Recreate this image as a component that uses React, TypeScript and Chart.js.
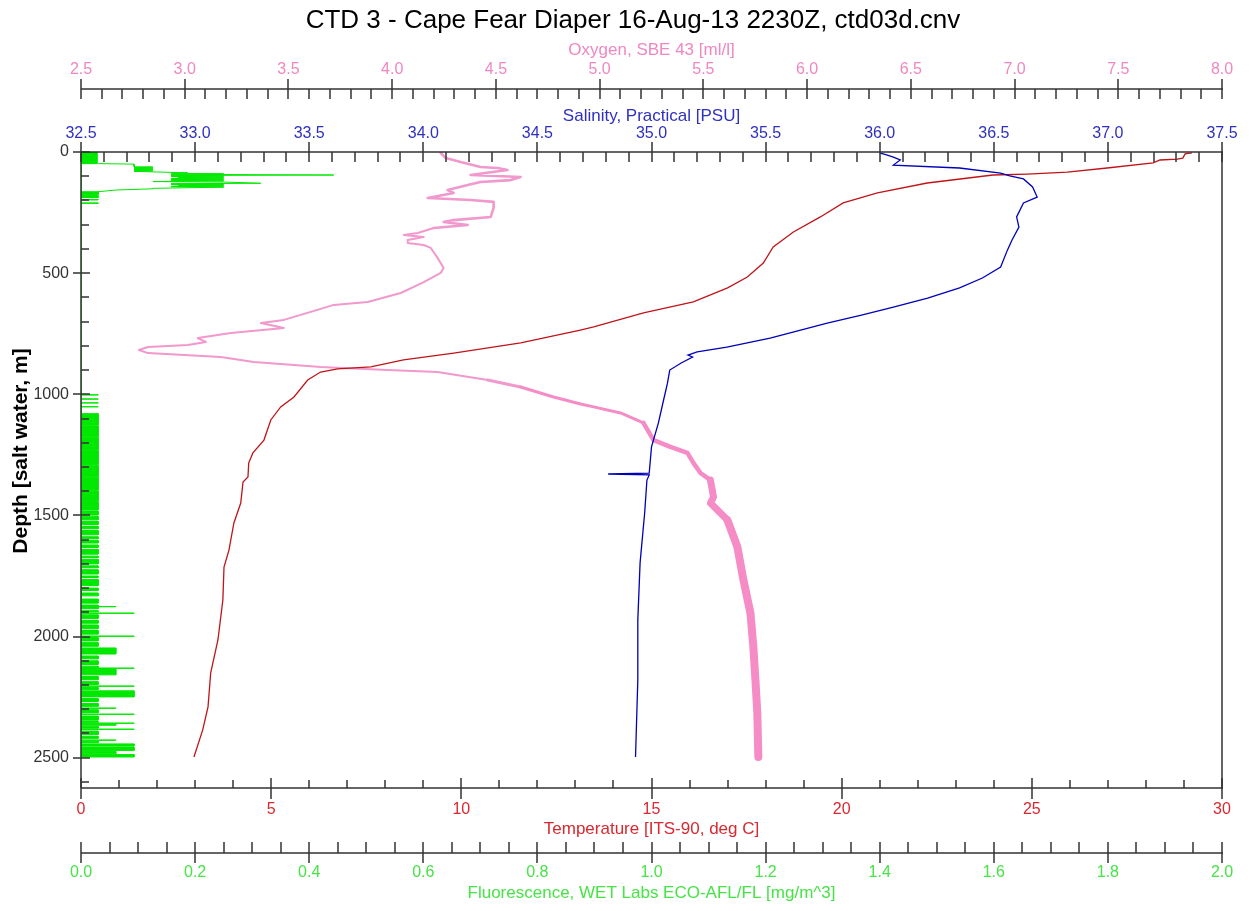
import React, { useEffect, useRef } from 'react';
import { Chart, registerables } from 'chart.js';

Chart.register(...registerables);

// ---------- text ----------
const chartTitle = 'CTD 3 - Cape Fear Diaper 16-Aug-13 2230Z, ctd03d.cnv';
const oxyTitle = 'Oxygen, SBE 43 [ml/l]';
const salTitle = 'Salinity, Practical [PSU]';
const tempTitle = 'Temperature [ITS-90, deg C]';
const fluorTitle = 'Fluorescence, WET Labs ECO-AFL/FL [mg/m^3]';
const depthTitle = 'Depth [salt water, m]';

// ---------- tick labels ----------
const depthTickLabels = ['0', '500', '1000', '1500', '2000', '2500'];
const oxyTickLabels = ['2.5', '3.0', '3.5', '4.0', '4.5', '5.0', '5.5', '6.0', '6.5', '7.0', '7.5', '8.0'];
const salTickLabels = ['32.5', '33.0', '33.5', '34.0', '34.5', '35.0', '35.5', '36.0', '36.5', '37.0', '37.5'];
const tempTickLabels = ['0', '5', '10', '15', '20', '25', '30'];
const fluorTickLabels = ['0.0', '0.2', '0.4', '0.6', '0.8', '1.0', '1.2', '1.4', '1.6', '1.8', '2.0'];

// ---------- temperature (deg C) vs depth (m) ----------
const tempDepth = [4, 8, 25, 29, 33, 45, 66, 83, 91, 95, 128, 169, 210, 268, 330, 392, 458, 516, 561, 619, 664, 722, 735, 788, 830, 858, 887, 895, 908, 941, 1011, 1052, 1106, 1189, 1242, 1283, 1341, 1362, 1449, 1531, 1643, 1713, 1849, 2014, 2150, 2290, 2385, 2497];
const tempValue = [29.21, 29.03, 28.97, 28.82, 28.37, 28.19, 26.98, 25.93, 24.88, 23.98, 22.25, 20.94, 20.04, 19.44, 18.73, 18.2, 17.94, 17.52, 17.0, 16.1, 14.79, 13.48, 13.13, 11.56, 9.8, 8.48, 7.62, 6.75, 6.3, 5.96, 5.6, 5.25, 4.99, 4.81, 4.52, 4.41, 4.39, 4.26, 4.2, 4.02, 3.89, 3.76, 3.73, 3.6, 3.41, 3.34, 3.2, 2.97];

// ---------- salinity (PSU) vs depth (m) ----------
const salDepth = [4, 12, 21, 33, 54, 66, 87, 99, 111, 144, 186, 210, 268, 310, 363, 404, 475, 520, 561, 603, 640, 673, 706, 743, 768, 805, 825, 838, 846, 871, 900, 954, 1036, 1119, 1217, 1325, 1329, 1333, 1354, 1490, 1696, 1931, 2179, 2497];
const salValue = [36.0, 36.03, 36.06, 36.09, 36.06, 36.35, 36.53, 36.57, 36.63, 36.67, 36.69, 36.63, 36.6, 36.61, 36.58, 36.56, 36.53, 36.45, 36.35, 36.21, 36.06, 35.92, 35.77, 35.62, 35.52, 35.33, 35.2, 35.16, 35.18, 35.13, 35.08, 35.07, 35.05, 35.03, 35.0, 34.99, 34.81, 34.99, 34.98, 34.97, 34.95, 34.94, 34.94, 34.93];

// ---------- oxygen (ml/l) vs depth (m) ----------
const oxyDepth = [4, 25, 41, 62, 66, 74, 95, 103, 116, 124, 136, 157, 169, 190, 198, 206, 231, 268, 281, 289, 301, 314, 334, 343, 351, 363, 376, 384, 396, 437, 479, 499, 537, 557, 582, 619, 631, 660, 693, 706, 726, 747, 768, 784, 797, 805, 817, 830, 846, 867, 887, 900, 908, 941, 970, 1011, 1040, 1052, 1077, 1118, 1189, 1217, 1242, 1283, 1325, 1354, 1424, 1449, 1519, 1630, 1766, 1903, 2043, 2179, 2315, 2497];
const oxyValue = [4.234, 4.258, 4.33, 4.426, 4.508, 4.556, 4.378, 4.619, 4.571, 4.426, 4.364, 4.267, 4.296, 4.171, 4.378, 4.489, 4.489, 4.475, 4.296, 4.248, 4.364, 4.2, 4.123, 4.056, 4.152, 4.075, 4.075, 4.152, 4.186, 4.219, 4.248, 4.234, 4.152, 4.104, 4.041, 3.882, 3.718, 3.608, 3.478, 3.367, 3.478, 3.222, 3.063, 3.102, 3.015, 2.823, 2.779, 2.823, 3.174, 3.333, 3.656, 3.979, 4.219, 4.46, 4.619, 4.778, 4.908, 4.971, 5.101, 5.211, 5.26, 5.341, 5.423, 5.452, 5.486, 5.534, 5.549, 5.534, 5.616, 5.664, 5.693, 5.727, 5.741, 5.751, 5.76, 5.765];

// ---------- fluorescence (mg/m^3): noisy trace in the upper layer ----------
const fluorTraceDepth = [48, 50, 61, 62, 64, 66, 68, 70, 72, 74, 76, 78, 80, 82, 86, 88, 90, 92, 95, 97, 99, 101, 103, 105, 107, 109, 111, 113, 115, 117, 119, 122, 124, 129, 131, 133, 135, 137, 139, 141, 143, 145, 150, 152, 157, 164];
const fluorTraceValue = [0.03, 0.093, 0.093, 0.126, 0.093, 0.126, 0.093, 0.126, 0.093, 0.126, 0.093, 0.126, 0.093, 0.126, 0.187, 0.158, 0.25, 0.158, 0.443, 0.158, 0.25, 0.158, 0.25, 0.17, 0.25, 0.158, 0.25, 0.158, 0.25, 0.158, 0.25, 0.126, 0.25, 0.315, 0.158, 0.25, 0.158, 0.25, 0.17, 0.25, 0.158, 0.25, 0.126, 0.126, 0.061, 0.03];

// ---------- fluorescence: near-axis band readings (top depth, bottom depth, value) ----------
const fluorBandTop = [0, 164, 180, 196, 210, 1002, 1019, 1035, 1051, 1080, 1131, 1178, 1231, 1293, 1343, 1398, 1443, 1482, 1503, 1524, 1545, 1562, 1588, 1603, 1622, 1640, 1668, 1681, 1708, 1724, 1750, 1764, 1800, 1820, 1845, 1870, 1876, 1878, 1893, 1903, 1910, 1933, 1952, 1975, 1998, 2004, 2025, 2047, 2080, 2100, 2122, 2130, 2132, 2165, 2186, 2204, 2210, 2224, 2256, 2276, 2295, 2302, 2320, 2328, 2350, 2357, 2362, 2370, 2382, 2390, 2412, 2427, 2432, 2443, 2456, 2474, 2487];
const fluorBandBottom = [48, 176, 188, 198, 212, 1003, 1020, 1036, 1052, 1128, 1175, 1228, 1290, 1340, 1395, 1440, 1478, 1498, 1518, 1538, 1555, 1580, 1596, 1614, 1632, 1660, 1674, 1700, 1716, 1742, 1756, 1790, 1810, 1832, 1862, 1875, 1877, 1885, 1898, 1904, 1925, 1945, 1968, 1990, 1999, 2018, 2040, 2072, 2092, 2115, 2128, 2131, 2158, 2178, 2198, 2205, 2218, 2249, 2268, 2288, 2296, 2314, 2321, 2345, 2354, 2358, 2366, 2378, 2383, 2405, 2420, 2428, 2438, 2452, 2470, 2484, 2497];
const fluorBandValue = [0.028, 0.03, 0.03, 0.03, 0.03, 0.03, 0.03, 0.03, 0.03, 0.03, 0.03, 0.03, 0.03, 0.03, 0.03, 0.03, 0.03, 0.03, 0.03, 0.03, 0.03, 0.03, 0.03, 0.03, 0.03, 0.03, 0.03, 0.03, 0.03, 0.03, 0.03, 0.03, 0.03, 0.03, 0.03, 0.03, 0.061, 0.03, 0.03, 0.093, 0.03, 0.03, 0.03, 0.03, 0.093, 0.03, 0.03, 0.061, 0.03, 0.03, 0.03, 0.093, 0.061, 0.03, 0.03, 0.093, 0.03, 0.093, 0.03, 0.03, 0.061, 0.03, 0.093, 0.03, 0.03, 0.093, 0.061, 0.03, 0.093, 0.03, 0.03, 0.061, 0.03, 0.093, 0.093, 0.061, 0.093];

// ---------- colours ----------
const RED_LINE = 'rgb(192,20,24)';
const BLUE_LINE = 'rgb(0,0,185)';
const PINK_LINE = 'rgb(245,140,198)';
const PINK_THIN = 'rgb(241,152,204)';
const GREEN_LINE = 'rgb(0,232,0)';
const RED_TEXT = 'rgb(218,40,48)';
const BLUE_TEXT = 'rgb(48,48,192)';
const PINK_TEXT = 'rgb(240,135,192)';
const GREEN_TEXT = 'rgb(70,228,70)';
const AXIS = '#333333';
const FONT = '"Liberation Sans", Arial, Helvetica, sans-serif';

const pts = (xs: number[], ds: number[]) => xs.map((x, i) => ({ x, y: ds[i] }));

function bandPoints() {
  const out: { x: number; y: number }[] = [];
  fluorBandTop.forEach((t, i) => {
    const b = fluorBandBottom[i];
    const v = fluorBandValue[i];
    out.push({ x: 0, y: t }, { x: v, y: t }, { x: v, y: b }, { x: 0, y: b });
  });
  return out;
}

function hAxis(ctx: CanvasRenderingContext2D, scale: any, y: number, min: number, max: number, step: number, every: number, minUp: number, minDown: number, majUp: number, majDown: number) {
  const n = Math.round((max - min) / step);
  ctx.beginPath();
  ctx.moveTo(scale.left, y);
  ctx.lineTo(scale.right + 1, y);
  for (let i = 0; i <= n; i++) {
    const x = Math.round(scale.getPixelForValue(min + i * step));
    const major = i % every === 0;
    ctx.moveTo(x, y - (major ? majUp : minUp));
    ctx.lineTo(x, y + (major ? majDown : minDown));
  }
  ctx.stroke();
}

function hLabels(ctx: CanvasRenderingContext2D, scale: any, labels: string[], y: number, color: string) {
  ctx.fillStyle = color;
  ctx.font = `16px ${FONT}`;
  ctx.textAlign = 'center';
  ctx.textBaseline = 'middle';
  labels.forEach((l) => ctx.fillText(l, scale.getPixelForValue(parseFloat(l)), y));
}

function title(ctx: CanvasRenderingContext2D, text: string, x: number, y: number, color: string, size = 17) {
  ctx.fillStyle = color;
  ctx.font = `${size}px ${FONT}`;
  ctx.textAlign = 'center';
  ctx.textBaseline = 'middle';
  ctx.fillText(text, x, y);
}

const axesPlugin = {
  id: 'ctdAxes',
  afterDraw(chart: any) {
    const ctx: CanvasRenderingContext2D = chart.ctx;
    const a = chart.chartArea;
    const s = chart.scales;
    const cx = (a.left + a.right) / 2;
    ctx.save();
    ctx.strokeStyle = AXIS;
    ctx.lineWidth = 1.5;

    // oxygen (top outer)
    hAxis(ctx, s.xOxy, 89, 2.5, 8.0, 0.1, 5, 0, 10, 10, 10);
    // salinity (top of plot)
    hAxis(ctx, s.xSal, a.top, 32.5, 37.5, 0.1, 5, 0, 10, 10, 10);
    // temperature (bottom of plot)
    hAxis(ctx, s.x, a.bottom, 0, 30, 1, 5, 8, 0, 10, 11);
    // fluorescence (bottom outer)
    hAxis(ctx, s.xFl, 853, 0, 2, 0.05, 4, 11, 0, 11, 10);

    // depth axis
    const ys = s.y;
    ctx.beginPath();
    ctx.moveTo(a.left, a.top);
    ctx.lineTo(a.left, a.bottom);
    for (let d = 0; d <= 2600; d += 100) {
      const y = Math.round(ys.getPixelForValue(d));
      const major = d % 500 === 0;
      ctx.moveTo(major ? a.left - 8 : a.left, y);
      ctx.lineTo(a.left + (major ? 9 : 8), y);
    }
    // right frame
    ctx.moveTo(a.right, a.top);
    ctx.lineTo(a.right, a.bottom);
    ctx.stroke();

    // tick labels
    hLabels(ctx, s.xOxy, oxyTickLabels, 70, PINK_TEXT);
    hLabels(ctx, s.xSal, salTickLabels, 134, BLUE_TEXT);
    hLabels(ctx, s.x, tempTickLabels, 810, RED_TEXT);
    hLabels(ctx, s.xFl, fluorTickLabels, 873, GREEN_TEXT);

    ctx.fillStyle = '#333333';
    ctx.font = `16px ${FONT}`;
    ctx.textAlign = 'right';
    ctx.textBaseline = 'middle';
    depthTickLabels.forEach((l) => ctx.fillText(l, a.left - 12, ys.getPixelForValue(parseFloat(l))));

    // titles
    title(ctx, chartTitle, 633, 21, '#000000', 26);
    title(ctx, oxyTitle, cx, 50, PINK_TEXT);
    title(ctx, salTitle, cx, 116, BLUE_TEXT);
    title(ctx, tempTitle, cx, 829, RED_TEXT);
    title(ctx, fluorTitle, cx, 893, GREEN_TEXT);

    ctx.save();
    ctx.translate(21, 451);
    ctx.rotate(-Math.PI / 2);
    ctx.fillStyle = '#000000';
    ctx.font = `bold 21px ${FONT}`;
    ctx.textAlign = 'center';
    ctx.textBaseline = 'middle';
    ctx.fillText(depthTitle, 0, 0);
    ctx.restore();

    ctx.restore();
  },
};

export default function App() {
  const ref = useRef<HTMLCanvasElement | null>(null);

  useEffect(() => {
    if (!ref.current) return;
    const oxyWidth = (c: any) => {
      const d = c.p1.parsed.y;
      if (d > 1600) return 8;
      if (d > 1420) return 7;
      if (d > 1150) return 4.5;
      if (d > 960) return 3;
      if (d < 320) return 2.6;
      return 2;
    };
    const oxyColor = (c: any) => (c.p1.parsed.y > 1000 ? PINK_LINE : PINK_THIN);

    const chart = new Chart(ref.current, {
      type: 'line',
      data: {
        datasets: [
          {
            label: 'Salinity',
            data: pts(salValue, salDepth),
            xAxisID: 'xSal',
            yAxisID: 'y',
            borderColor: BLUE_LINE,
            borderWidth: 1.3,
            pointRadius: 0,
            fill: false,
            order: 0,
          },
          {
            label: 'Temperature',
            data: pts(tempValue, tempDepth),
            xAxisID: 'x',
            yAxisID: 'y',
            borderColor: RED_LINE,
            borderWidth: 1.3,
            pointRadius: 0,
            fill: false,
            order: 1,
          },
          {
            label: 'Oxygen',
            data: pts(oxyValue, oxyDepth),
            xAxisID: 'xOxy',
            yAxisID: 'y',
            borderColor: PINK_LINE,
            borderWidth: 2,
            borderJoinStyle: 'round',
            borderCapStyle: 'round',
            pointRadius: 0,
            fill: false,
            order: 2,
            segment: { borderWidth: oxyWidth, borderColor: oxyColor },
          } as any,
          {
            label: 'Fluorescence trace',
            data: pts(fluorTraceValue, fluorTraceDepth),
            xAxisID: 'xFl',
            yAxisID: 'y',
            borderColor: GREEN_LINE,
            borderWidth: 1,
            pointRadius: 0,
            fill: false,
            order: 3,
          },
          {
            label: 'Fluorescence band',
            data: bandPoints(),
            xAxisID: 'xFl',
            yAxisID: 'y',
            borderColor: GREEN_LINE,
            backgroundColor: GREEN_LINE,
            borderWidth: 1,
            pointRadius: 0,
            fill: 'origin',
            order: 4,
          },
        ],
      },
      options: {
        indexAxis: 'y',
        animation: false,
        responsive: false,
        maintainAspectRatio: false,
        layout: { padding: { left: 81, right: 29, top: 152, bottom: 123 } },
        plugins: {
          legend: { display: false },
          tooltip: { enabled: false },
          title: { display: false },
        },
        elements: { line: { tension: 0 }, point: { radius: 0 } },
        scales: {
          y: { type: 'linear', axis: 'y', min: 0, max: 2625, reverse: true, display: false },
          x: { type: 'linear', axis: 'x', position: 'bottom', min: 0, max: 30, display: false },
          xSal: { type: 'linear', axis: 'x', position: 'top', min: 32.5, max: 37.5, display: false },
          xOxy: { type: 'linear', axis: 'x', position: 'top', min: 2.5, max: 8.0, display: false },
          xFl: { type: 'linear', axis: 'x', position: 'bottom', min: 0, max: 2, display: false },
        },
      } as any,
      plugins: [axesPlugin],
    });
    return () => chart.destroy();
  }, []);

  return (
    <div style={{ position: 'absolute', left: 0, top: 0, width: 1251, height: 911, background: '#ffffff' }}>
      <canvas ref={ref} width={1251} height={911} style={{ display: 'block' }} />
    </div>
  );
}
